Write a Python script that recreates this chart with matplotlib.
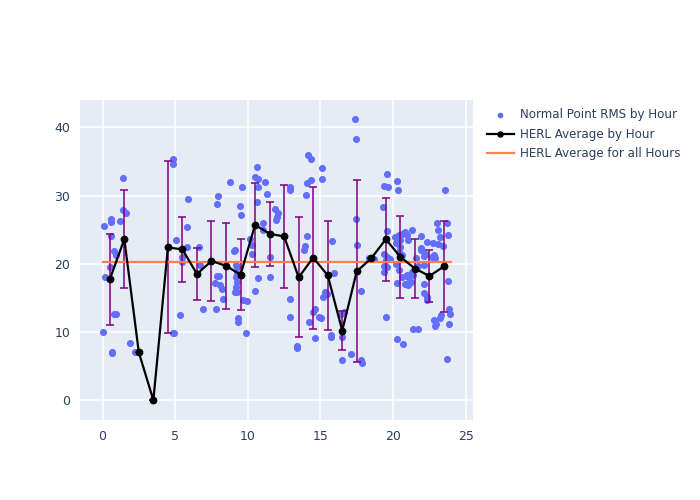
import matplotlib
matplotlib.use("Agg")
import matplotlib.pyplot as plt

# normal point RMS values, (hour of day, rms)
rms_hour = [0.04, 0.11, 0.16, 0.5, 0.55, 0.55, 0.55, 0.64, 0.62, 0.8, 0.92, 0.8, 0.92,
            1.17, 1.38, 1.42, 1.6, 1.88, 2.27, 2.4, 3.5,
            4.83, 4.87, 5.06, 4.87, 4.94, 5.3, 5.5, 5.5, 5.83, 5.88, 5.83,
            6.64, 6.7, 6.9, 7.74, 7.8, 7.86, 7.88, 7.93, 8.0, 8.1, 8.2, 8.28,
            8.8, 9.12, 9.05, 9.24, 9.2, 9.25, 9.2, 9.28, 9.2, 9.1, 9.25, 9.35, 9.3,
            9.6, 9.49, 9.54, 9.65, 9.95, 9.88,
            10.16, 10.3, 10.27, 10.5, 10.6, 10.5, 10.7, 10.69, 10.66, 10.69,
            11.03, 11.08, 11.2, 11.3, 11.5, 11.5, 11.9, 12.1, 12.0, 11.95,
            12.9, 12.9, 12.9, 12.9, 13.4, 13.4,
            14.14, 14.34, 14.07, 14.34, 14.02, 14.04, 13.93, 13.9, 14.6, 14.52, 14.18,
            14.87, 15.03, 14.6,
            15.1, 15.08, 15.33, 15.2, 15.45, 15.8, 15.95, 15.72, 15.74,
            16.48, 16.48, 16.4, 16.6,
            17.08, 17.4, 17.45, 17.47, 17.5, 17.77, 17.8, 17.86,
            18.37, 18.55, 18.7,
            19.59, 19.35, 19.63, 19.3, 19.59, 19.4, 19.6, 19.5, 19.8, 19.35, 19.55, 19.4, 19.54,
            20.3, 20.35, 20.1, 20.4, 20.6, 20.5, 20.2, 20.5, 20.4, 20.6, 20.2, 20.4, 20.3,
            20.6, 20.8, 20.3, 20.7,
            20.85, 20.95, 21.0, 21.3, 20.95, 21.05, 20.9, 21.0, 21.3, 21.35, 21.25, 21.4, 21.7,
            21.6, 21.7,
            21.9, 22.3, 22.76, 21.95, 21.9, 22.2, 22.1, 22.1, 22.16, 22.1, 22.3, 22.35, 22.85,
            22.7, 22.9, 22.85, 22.9, 22.95,
            23.54, 23.0, 23.7, 23.1, 23.75, 23.2, 23.1, 23.45, 23.77, 23.2, 23.3, 23.84, 23.9,
            23.84, 23.72]
rms_value = [10.0, 25.6, 18.1, 19.5, 26.5, 26.1, 24.0, 6.9, 7.1, 21.8, 21.3, 12.7, 12.6,
             26.2, 32.5, 27.9, 27.4, 8.4, 7.0, 7.0, 0.0,
             35.4, 34.6, 23.5, 9.8, 9.9, 12.5, 21.0, 20.3, 25.4, 29.5, 22.5,
             22.5, 19.8, 13.3, 17.2, 13.4, 18.2, 28.8, 29.9, 18.2, 16.9, 16.3, 14.8,
             32.0, 22.0, 21.9, 19.5, 19.8, 18.6, 18.1, 17.3, 16.6, 15.9, 15.9, 12.0, 11.5,
             31.2, 28.5, 27.2, 14.7, 14.5, 9.9,
             23.6, 22.7, 21.4, 16.0, 34.2, 32.7, 32.4, 31.2, 29.1, 17.9,
             25.9, 24.9, 32.0, 30.2, 21.0, 18.1, 28.0, 27.5, 26.9, 26.4,
             31.2, 30.8, 14.8, 12.2, 7.9, 7.6,
             35.9, 35.3, 31.8, 32.3, 30.1, 24.0, 22.6, 22.0, 13.4, 12.9, 11.5,
             12.2, 12.0, 9.1,
             34.0, 32.4, 15.9, 15.2, 15.6, 23.3, 18.6, 9.5, 9.2,
             9.3, 5.9, 12.7, 12.9,
             6.8, 41.2, 38.3, 26.5, 22.7, 16.0, 5.9, 5.5,
             20.8, 20.8, 20.7,
             33.2, 31.4, 31.3, 28.3, 24.8, 21.5, 21.0, 20.5, 20.7, 19.7, 19.5, 18.8, 12.2,
             32.2, 30.8, 23.9, 24.2, 24.4, 23.5, 23.0, 22.5, 21.7, 21.3, 20.0, 19.1, 17.2,
             18.0, 17.0, 9.0, 8.2,
             24.7, 24.2, 23.5, 25.0, 18.3, 18.1, 17.1, 16.9, 18.8, 18.3, 17.3, 10.5, 10.5,
             20.8, 19.7,
             24.0, 23.2, 23.0, 22.3, 22.0, 21.5, 21.2, 19.8, 17.1, 15.7, 15.1, 14.7, 21.3,
             21.0, 20.8, 11.8, 10.9, 11.2,
             30.8, 26.0, 25.9, 24.9, 24.2, 23.9, 22.9, 22.6, 17.4, 12.0, 12.5, 13.3, 12.7,
             11.2, 6.1]

# hourly averages and their spread
hour_center = [0.5, 1.5, 2.5, 3.5, 4.5, 5.5, 6.5, 7.5, 8.5, 9.5, 10.5, 11.5,
               12.5, 13.5, 14.5, 15.5, 16.5, 17.5, 18.5, 19.5, 20.5, 21.5, 22.5, 23.5]
hour_avg = [17.7, 23.6, 7.0, 0.0, 22.4, 22.1, 18.5, 20.4, 19.7, 18.4, 25.7, 24.4,
            24.0, 18.0, 20.9, 18.3, 10.2, 18.9, 20.8, 23.6, 21.0, 19.3, 18.2, 19.6]
hour_std = [6.65, 7.2, 0.0, 0.0, 12.6, 4.8, 3.85, 5.85, 6.3, 5.2, 6.2, 4.7,
            7.55, 8.8, 10.4, 7.95, 2.85, 13.35, 0.0, 6.1, 6.0, 4.3, 3.8, 6.6]

all_hours_avg = 20.2
all_hours_span = [0, 24]

fig = plt.figure(figsize=(7, 5), dpi=100)
ax = fig.add_axes([80 / 700, 80 / 500, 393 / 700, 320 / 500])
ax.set_facecolor("#E5ECF6")

ax.scatter(rms_hour, rms_value, s=26, color="#636EFA", linewidths=0, zorder=2,
           label="Normal Point RMS by Hour")
ax.errorbar(hour_center, hour_avg, yerr=hour_std, fmt="none", ecolor="purple",
            elinewidth=1.1, capsize=3, capthick=1.1, zorder=3)
ax.plot(hour_center, hour_avg, color="black", lw=1.6, marker="o", markersize=4.6,
        zorder=4, label="HERL Average by Hour")
ax.plot(all_hours_span, [all_hours_avg, all_hours_avg], color="#FF7F50", lw=1.6,
        zorder=3.5, label="HERL Average for all Hours")

ax.set_xlim(-1.55, 25.5)
ax.set_ylim(-2.9, 44)
ax.set_xticks([0, 5, 10, 15, 20, 25])
ax.set_yticks([0, 10, 20, 30, 40])
ax.grid(color="white", lw=1.1)
ax.set_axisbelow(True)
for s in ax.spines.values():
    s.set_visible(False)
ax.tick_params(length=0, labelsize=9, colors="#2a3f5f", pad=7)

fig.legend(loc="upper left", bbox_to_anchor=(0.68, 0.805), frameon=False,
           fontsize=8.6, labelcolor="#2a3f5f", handlelength=2.3, handletextpad=0.45,
           labelspacing=0.55, markerscale=0.8)

fig.savefig("out.png", dpi=100)
